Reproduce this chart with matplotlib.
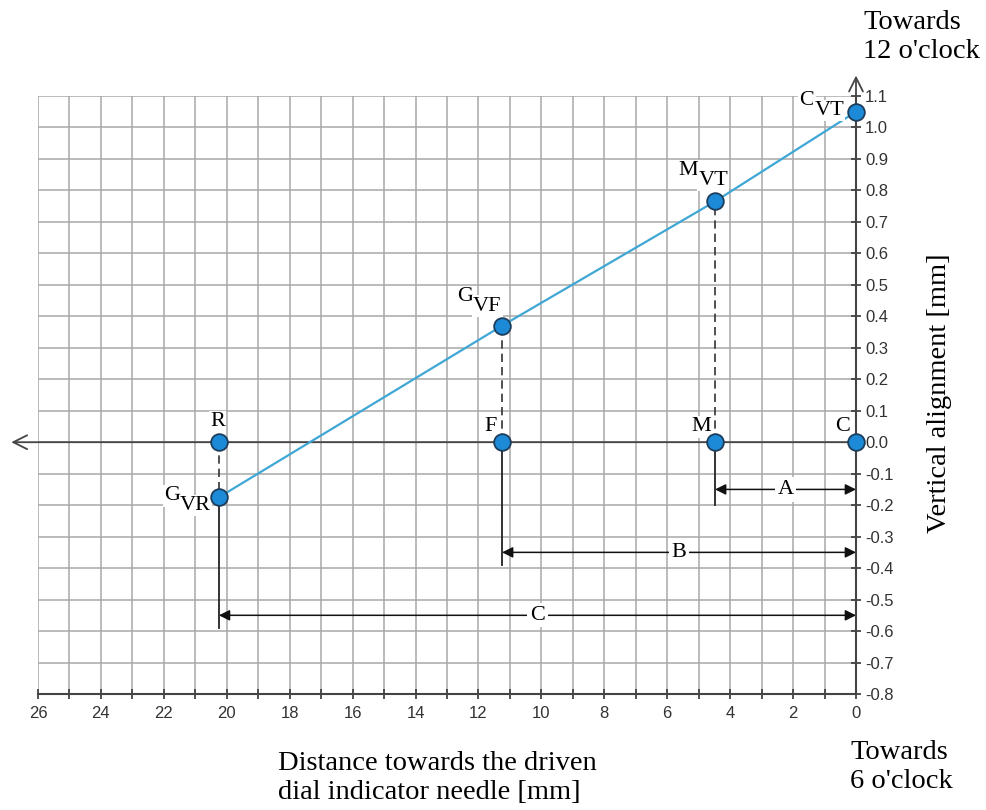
import matplotlib
matplotlib.use("Agg")
import matplotlib.pyplot as plt
from matplotlib.ticker import MultipleLocator, FormatStrFormatter

# distances (mm) and readings
dist_R, dist_F, dist_M, dist_C = 20.25, 11.25, 4.48, 0.0
gap_names = ['R', 'F', 'M', 'C']
gap_x = [dist_R, dist_F, dist_M, dist_C]
gap_y = [0.0, 0.0, 0.0, 0.0]

shaft_main = ['G', 'G', 'M', 'C']
shaft_sub = ['VR', 'VF', 'VT', 'VT']
shaft_x = [dist_R, dist_F, dist_M, dist_C]
shaft_y = [-0.175, 0.37, 0.765, 1.05]

dim_labels = ['A', 'B', 'C']
dim_from = [dist_M, dist_F, dist_R]
dim_y = [-0.15, -0.35, -0.55]
dim_end = [-0.2, -0.39, -0.59]

serif = 'Liberation Serif'
sans = 'Liberation Sans'

fig = plt.figure(figsize=(9.87, 8.10), dpi=100)
ax = fig.add_axes([38/987, 116/810, 818/987, 598/810])
ax.set_xlim(26, 0)
ax.set_ylim(-0.8, 1.1)

grid_c = '#a8a8a8'
axis_c = '#444444'
for x in range(0, 27):
    ax.axvline(x, color=grid_c, lw=1.1, zorder=0)
for k in range(-8, 12):
    ax.axhline(k / 10, color=grid_c, lw=1.1, zorder=0)

for s in ['top', 'left']:
    ax.spines[s].set_visible(False)
for s in ['right', 'bottom']:
    ax.spines[s].set_color(axis_c)
    ax.spines[s].set_linewidth(1.5)

ax.yaxis.tick_right()
ax.yaxis.set_major_locator(MultipleLocator(0.1))
ax.yaxis.set_major_formatter(FormatStrFormatter('%.1f'))
ax.xaxis.set_major_locator(MultipleLocator(2))
ax.xaxis.set_minor_locator(MultipleLocator(1))
ax.tick_params(axis='both', which='both', direction='inout', length=7,
               width=1.3, color=axis_c, labelsize=12, labelcolor='#333333')
ax.tick_params(axis='x', pad=5)
ax.tick_params(axis='y', pad=3)
for lab in ax.get_xticklabels() + ax.get_yticklabels():
    lab.set_family(sans)

# axis arrows
ax.annotate('', xy=(26.85, 0), xytext=(0, 0), annotation_clip=False,
            arrowprops=dict(arrowstyle='->', color=axis_c, lw=1.3,
                            mutation_scale=25, shrinkA=0, shrinkB=0))
ax.annotate('', xy=(0, 1.165), xytext=(0, 1.0), annotation_clip=False,
            arrowprops=dict(arrowstyle='->', color=axis_c, lw=1.3,
                            mutation_scale=25, shrinkA=0, shrinkB=0))

# dashed verticals between points
for gx, sy in zip(gap_x[:3], shaft_y[:3]):
    ax.plot([gx, gx], [0, sy], color='#333333', lw=1.2, ls=(0, (5, 3)), zorder=2)

# dimension lines
for i, (lbl, xf, yd, ye) in enumerate(zip(dim_labels, dim_from, dim_y, dim_end)):
    top = shaft_y[0] if i == 2 else 0.0
    ax.plot([xf, xf], [top, ye], color='#222222', lw=1.3, zorder=2)
    ax.annotate('', xy=(0, yd), xytext=(xf, yd),
                arrowprops=dict(arrowstyle='<|-|>', color='#111111', lw=1.1,
                                mutation_scale=16, shrinkA=0, shrinkB=0),
                zorder=3)
    ax.text(xf / 2, yd, lbl, fontsize=16, family=serif,
            ha='center', va='center', zorder=4,
            bbox=dict(facecolor='white', edgecolor='none', pad=2))

# shaft line
ax.plot(shaft_x, shaft_y, color='#3fa7d6', lw=1.6, zorder=3)

ax.plot(gap_x, gap_y, 'o', ms=12, mfc='#1c8ad6', mec='#1d3d5c', mew=1.3,
        zorder=5, clip_on=False)
ax.plot(shaft_x, shaft_y, 'o', ms=12, mfc='#1c8ad6', mec='#1d3d5c', mew=1.3,
        zorder=5, clip_on=False)

box = dict(facecolor='white', edgecolor='none', pad=1)
# label offsets in points
gap_off = [(-1, 15), (-8, 11), (-10, 11), (-10, 11)]
for n, x, y, off in zip(gap_names, gap_x, gap_y, gap_off):
    ax.annotate(n, (x, y), xytext=off, textcoords='offset points',
                ha='center', va='center', fontsize=16,
                family=serif, bbox=box, zorder=4)

# main letter ends where subscript starts (junction), subscript sits lower
shaft_off = [(-28, 1), (-21, 21), (-12, 22), (-30, 8)]
for m, sb, x, y, (jx, jy) in zip(shaft_main, shaft_sub, shaft_x, shaft_y, shaft_off):
    ax.annotate(m, (x, y), xytext=(jx, jy), textcoords='offset points',
                ha='right', va='center', fontsize=16, family=serif,
                bbox=box, zorder=4)
    ax.annotate(sb, (x, y), xytext=(jx, jy - 7), textcoords='offset points',
                ha='left', va='center', fontsize=16, family=serif,
                bbox=box, zorder=4)

fig.text(940/987, 1 - 393/810, 'Vertical alignment [mm]', rotation=90,
         ha='center', va='center', fontsize=20.5, family=serif)
fig.text(863/987, 1 - 10/810, "Towards\n12 o'clock", ha='left', va='top',
         fontsize=20.5, family=serif, linespacing=1.2)
fig.text(850/987, 1 - 740/810, "Towards\n6 o'clock", ha='left', va='top',
         fontsize=20.5, family=serif, linespacing=1.2)
fig.text(278/987, 1 - 751/810, "Distance towards the driven\ndial indicator needle [mm]",
         ha='left', va='top', fontsize=20.5, family=serif, linespacing=1.2)

fig.savefig('out.png', dpi=100, facecolor='white')
